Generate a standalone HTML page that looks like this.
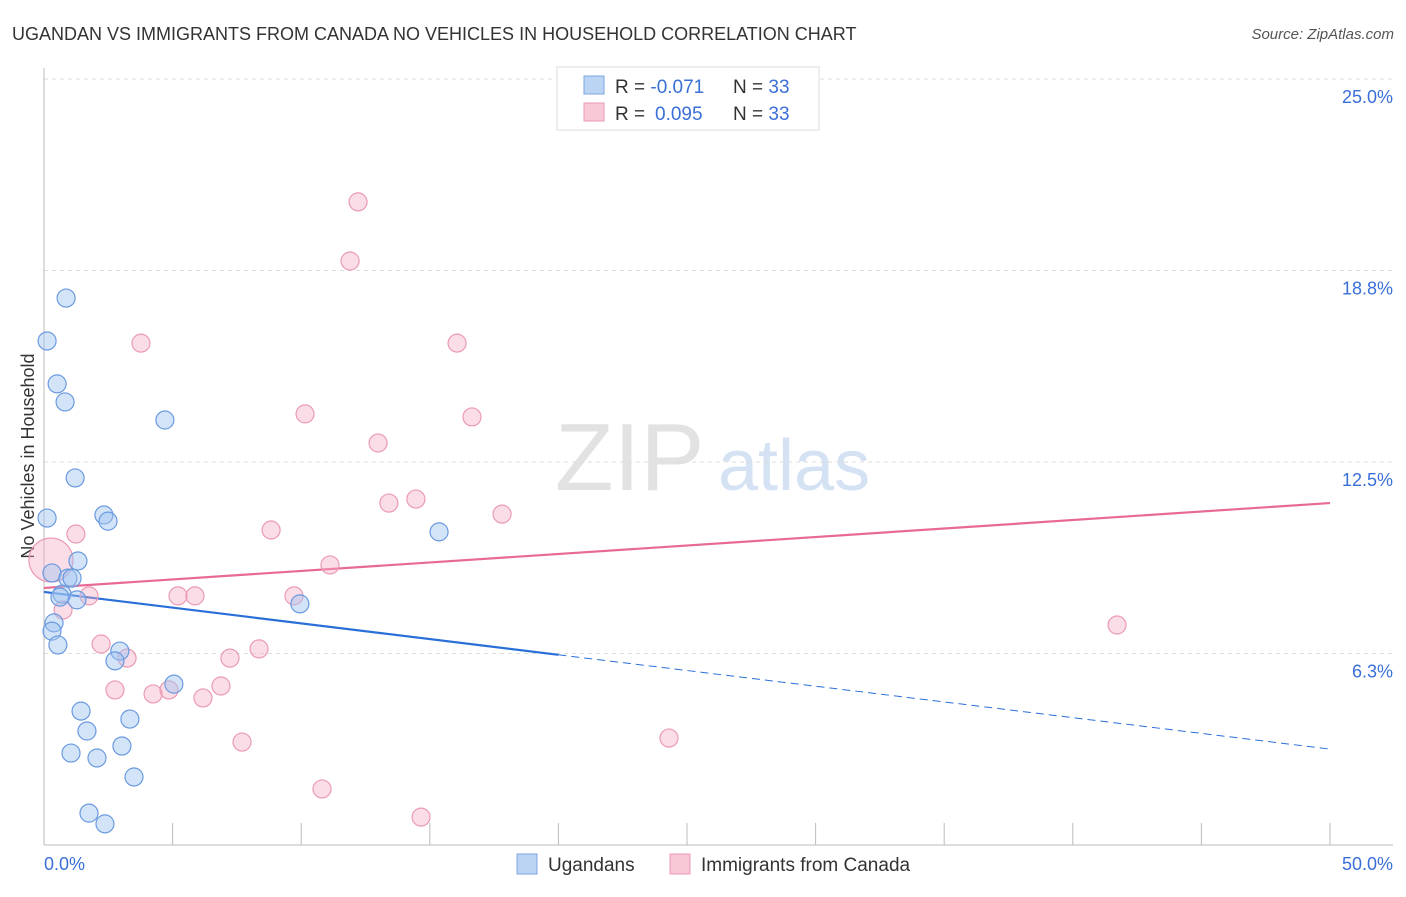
<!DOCTYPE html>
<html><head><meta charset="utf-8"><style>
body{margin:0;background:#fff;font-family:"Liberation Sans",sans-serif}
svg text{font-family:"Liberation Sans",sans-serif}
</style></head><body>
<svg id="chart" width="1406" height="892">
<text x="12" y="40" font-size="18" fill="#333">UGANDAN VS IMMIGRANTS FROM CANADA NO VEHICLES IN HOUSEHOLD CORRELATION CHART</text>
<text x="1394" y="39" font-size="15" fill="#555" font-style="italic" text-anchor="end">Source: ZipAtlas.com</text>
<text x="555" y="490" font-size="96" fill="#e2e2e2" font-family="Liberation Serif">ZIP</text>
<text x="718" y="490" font-size="72" fill="#d4e2f4">atlas</text>
<text transform="translate(34,456) rotate(-90)" font-size="18" fill="#333" text-anchor="middle">No Vehicles in Household</text>
<g id="grid"></g><g id="axes"></g><g id="lines"></g><g id="points"></g>
<g>
<rect x="557" y="67" width="262" height="63" fill="#fff" stroke="#ddd"/>
<rect x="584" y="76" width="20" height="18" fill="#bcd4f4" stroke="#7aa6e0"/>
<rect x="584" y="103" width="20" height="18" fill="#f9c8d6" stroke="#eb9ab3"/>
<text x="615" y="93" font-size="19" fill="#333">R = <tspan fill="#3a6fd8">-0.071</tspan><tspan x="733">N = </tspan><tspan fill="#3a6fd8">33</tspan></text>
<text x="615" y="120" font-size="19" fill="#333">R = <tspan x="655" fill="#3a6fd8">0.095</tspan><tspan x="733">N = </tspan><tspan fill="#3a6fd8">33</tspan></text>
</g>
<g>
<rect x="517" y="854" width="20" height="20" fill="#bcd4f4" stroke="#7aa6e0"/>
<text x="548" y="871" font-size="19" fill="#333">Ugandans</text>
<rect x="670" y="854" width="20" height="20" fill="#f9c8d6" stroke="#eb9ab3"/>
<text x="701" y="871" font-size="19" fill="#333">Immigrants from Canada</text>
</g>
</svg>
<script>
const yTicks=[25,18.75,12.5,6.25];
const yTickLabels=["25.0%","18.8%","12.5%","6.3%"];
const xTicks=[0,5,10,15,20,25,30,35,40,45,50];
const blueX=[.86,.12,.51,.82,4.70,1.21,.12,2.33,2.49,1.32,.31,.93,1.09,.70,1.28,.62,9.95,.39,.31,.54,2.95,2.76,5.05,1.44,1.67,3.34,1.05,2.06,3.03,3.50,1.75,2.37,15.36];
const blueY=[17.85,16.45,15.05,14.46,13.87,11.98,10.67,10.77,10.57,9.27,8.88,8.71,8.71,8.19,8.00,8.09,7.87,7.25,6.98,6.53,6.33,6.01,5.25,4.37,3.72,4.11,3.00,2.84,3.23,2.22,1.04,.69,10.22];
const pinkX=[12.21,11.90,3.77,16.06,10.15,16.64,12.99,14.46,13.41,17.81,8.83,1.24,.27,11.12,1.75,5.21,5.87,9.72,.74,41.72,2.22,8.36,3.23,7.23,2.76,6.88,4.24,4.86,6.18,7.70,24.30,10.81,14.66];
const pinkY=[20.99,19.06,16.38,16.38,14.07,13.97,13.12,11.29,11.16,10.80,10.28,10.15,9.30,9.14,8.13,8.13,8.13,8.13,7.67,7.18,6.56,6.40,6.10,6.10,5.06,5.19,4.93,5.06,4.80,3.36,3.49,1.83,.91];
const blueTrend=[8.26,3.13];
const pinkTrend=[8.39,11.16];
const blueSolidEnd=20;
const X=v=>44+v*25.72, Y=v=>845-v*30.64;
const NS="http://www.w3.org/2000/svg";
function mk(p,t,a){const e=document.createElementNS(NS,t);for(const k in a)e.setAttribute(k,a[k]);p.appendChild(e);return e;}
const grid=document.getElementById('grid'),axes=document.getElementById('axes'),lines=document.getElementById('lines'),pts=document.getElementById('points');
yTicks.forEach((t,i)=>{
 const l=mk(grid,'line',{x1:44,x2:1393,y1:Y(t),y2:Y(t),stroke:'#ddd','stroke-dasharray':'4,4'});
 
 
 const tx=mk(grid,'text',{x:1393,y:Y(t)+24,'font-size':18,fill:'#3a6fd8','text-anchor':'end'});
 tx.textContent=yTickLabels[i];
 
 
});
mk(axes,'line',{x1:44,x2:44,y1:68,y2:845,stroke:'#bbb'});
mk(axes,'line',{x1:44,x2:1393,y1:845,y2:845,stroke:'#bbb'});
xTicks.forEach(t=>{const l=mk(axes,'line',{x1:X(t),x2:X(t),y1:823,y2:845,stroke:'#bbb'});
 
 });
let a=mk(axes,'text',{x:44,y:870,'font-size':18,fill:'#3a6fd8'});a.textContent="0.0%";


a=mk(axes,'text',{x:1393,y:870,'font-size':18,fill:'#3a6fd8','text-anchor':'end'});a.textContent="50.0%";


function pt(x,y,r,f,s,name){const c=mk(pts,'circle',{cx:X(x),cy:Y(y),r:r,fill:f,stroke:s,'stroke-width':1.2});
 
 }
pinkX.forEach((x,i)=>pt(x,pinkY[i],i===12?22:9,'rgba(245,170,195,0.4)','#eb9ab3','point-canada'));
blueX.forEach((x,i)=>pt(x,blueY[i],9,'rgba(160,195,240,0.45)','#6a9ae0','point-ugandans'));
const bm=blueTrend[0]+(blueTrend[1]-blueTrend[0])*blueSolidEnd/50;
let l=mk(lines,'line',{x1:X(0),y1:Y(blueTrend[0]),x2:X(blueSolidEnd),y2:Y(bm),stroke:'#2a6fd8','stroke-width':2.2});


l=mk(lines,'line',{x1:X(blueSolidEnd),y1:Y(bm),x2:X(50),y2:Y(blueTrend[1]),stroke:'#2a6fd8','stroke-width':1,'stroke-dasharray':'8,5'});


l=mk(lines,'line',{x1:X(0),y1:Y(pinkTrend[0]),x2:X(50),y2:Y(pinkTrend[1]),stroke:'#e86a94','stroke-width':2.2});


</script>
</body></html>
